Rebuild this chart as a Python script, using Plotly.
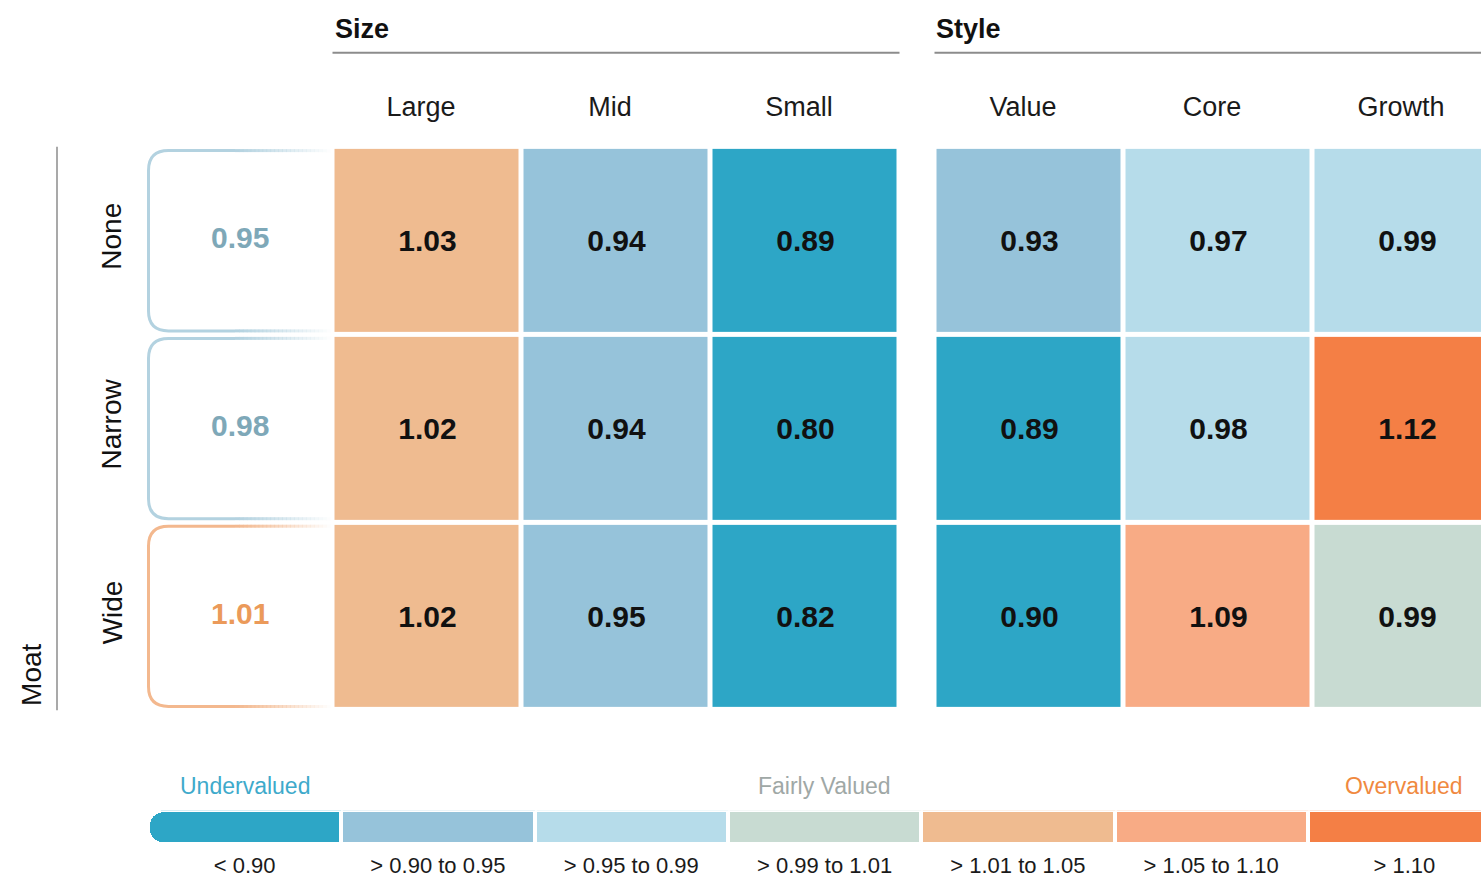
import numpy as np
import plotly.graph_objects as go

# ---- data -------------------------------------------------------------
moat_levels = ["None", "Narrow", "Wide"]
size_labels = ["Large", "Mid", "Small"]
style_labels = ["Value", "Core", "Growth"]

# price / fair value by moat rating (rows) and size / style bucket (columns)
size_values = [
    [1.03, 0.94, 0.89],
    [1.02, 0.94, 0.80],
    [1.02, 0.95, 0.82],
]
style_values = [
    [0.93, 0.97, 0.99],
    [0.89, 0.98, 1.12],
    [0.90, 1.09, 0.993],
]
moat_overall = [0.95, 0.98, 1.012]

bin_edges = [0.90, 0.95, 0.99, 1.01, 1.05, 1.10]
bin_labels = ["< 0.90", "> 0.90 to 0.95", "> 0.95 to 0.99", "> 0.99 to 1.01",
              "> 1.01 to 1.05", "> 1.05 to 1.10", "> 1.10"]
bin_colors = ["#2da6c6", "#96c3da", "#b6dcea", "#c8dbd2",
              "#efbb90", "#f8ab85", "#f47f45"]

# ---- styling ----------------------------------------------------------
W, H = 1481, 878
FONT = "Liberation Sans, Arial, sans-serif"
PITCH = 189.0  # px per column / row


def px(x):
    return x / W


def py(y):
    return 1 - y / H


n = len(bin_colors)
colorscale = []
for i, c in enumerate(bin_colors):
    colorscale += [[i / n, c], [(i + 1) / n, c]]


def bins(vals):
    return np.digitize(np.asarray(vals), bin_edges, right=True)


def fmt(vals):
    return [[f"{v:.2f}" for v in row] for row in vals]


fig = go.Figure()

for vals, labels, xa in [(size_values, size_labels, "x"), (style_values, style_labels, "x2")]:
    fig.add_trace(go.Heatmap(
        z=bins(vals), x=list(range(len(labels))), y=list(range(len(moat_levels))),
        text=fmt(vals), texttemplate="%{text}",
        textfont=dict(family=FONT, size=30, color="#111111", weight="bold"),
        colorscale=colorscale, zmin=-0.5, zmax=n - 0.5, showscale=False,
        xgap=5, ygap=5, hoverinfo="skip", xaxis=xa, yaxis="y",
    ))

# legend strip: stacked bars on a reversed axis so the rounded end sits on the left
for i in reversed(range(n)):
    fig.add_trace(go.Bar(
        x=[1], y=[0], orientation="h", width=1,
        marker=dict(color=bin_colors[i], line=dict(color="white", width=4)),
        hoverinfo="skip", showlegend=False, xaxis="x3", yaxis="y3",
    ))

axis_common = dict(showgrid=False, zeroline=False, showline=False, ticks="")

fig.update_layout(
    width=W, height=H, margin=dict(l=0, r=0, t=0, b=0),
    paper_bgcolor="white", plot_bgcolor="white", showlegend=False,
    barmode="stack", barcornerradius=15,
    xaxis=dict(**axis_common, domain=[px(332.5), px(332.5 + 3 * PITCH)], range=[-0.5, 2.5],
               side="top", anchor="y", tickvals=[0, 1, 2], ticktext=size_labels,
               tickfont=dict(family=FONT, size=27, color="#1a1a1a"),
               ticklabelstandoff=24, ticklabelshift=-6),
    xaxis2=dict(**axis_common, domain=[px(934.5), 1], range=[-0.5, -0.5 + (W - 934.5) / PITCH],
                side="top", anchor="y", tickvals=[0, 1, 2], ticktext=style_labels,
                tickfont=dict(family=FONT, size=27, color="#1a1a1a"),
                ticklabelstandoff=24, ticklabelshift=-6),
    yaxis=dict(**axis_common, domain=[py(713.5), py(147.5)], range=[2.5, -0.5],
               anchor="x", showticklabels=False),
    xaxis3=dict(**axis_common, domain=[px(148), 1], range=[n, n - (W - 148) / 193.3],
                anchor="y3", side="bottom",
                tickvals=[n - 0.5 - i for i in range(n)], ticktext=bin_labels,
                tickfont=dict(family=FONT, size=22, color="#1a1a1a"),
                ticklabelstandoff=6),
    yaxis3=dict(**axis_common, domain=[py(848), py(814)], range=[-0.5, 0.5],
                anchor="x3", showticklabels=False),
)

annotations = []
shapes = []

# group headers with rules underneath
for name, xa in [("Size", "x"), ("Style", "x2")]:
    annotations.append(dict(text=name, xref=f"{xa} domain", yref="paper", x=0, y=py(29),
                            xanchor="left", yanchor="middle", showarrow=False, xshift=0,
                            font=dict(family=FONT, size=27, color="#111111", weight="bold")))
    shapes.append(dict(type="line", xref=f"{xa} domain", yref="paper", x0=0, x1=1,
                       y0=py(53), y1=py(53), line=dict(color="#8c8c8c", width=2)))

# moat axis title and rule
annotations.append(dict(text="Moat", xref="paper", yref="paper", x=px(32), y=py(678),
                        textangle=-90, showarrow=False, xanchor="center", yanchor="middle",
                        font=dict(family=FONT, size=28, color="#111111")))
shapes.append(dict(type="line", xref="paper", yref="y domain", x0=px(57), x1=px(57),
                   y0=0, y1=1, line=dict(color="#8c8c8c", width=1.5)))

# row labels
for i, lab in enumerate(moat_levels):
    annotations.append(dict(text=lab, xref="paper", yref="y", x=px(112), y=i, yshift=4,
                            textangle=-90, showarrow=False, xanchor="center", yanchor="middle",
                            font=dict(family=FONT, size=28, color="#111111")))

# overall moat value in a fading rounded frame
h = 0.48
ry = 20 / 188.7
x_left, x_solid, x_end = 148.5, 235, 330
for i, v in enumerate(moat_overall):
    if v > 1.01:
        line_c, text_c = "#f3b88e", "#eb9a5a"
    else:
        line_c, text_c = "#b3d2e0", "#7ea8b8"
    top, bot = i - h, i + h
    xl, xs, rx = px(x_left), px(x_solid), px(20)
    path = (f"M {xs},{top} L {xl + rx},{top} Q {xl},{top} {xl},{top + ry} "
            f"L {xl},{bot - ry} Q {xl},{bot} {xl + rx},{bot} L {xs},{bot}")
    shapes.append(dict(type="path", xref="paper", yref="y", path=path,
                       line=dict(color=line_c, width=3), layer="above"))
    steps = 24
    seg = (x_end - x_solid) / steps
    for k in range(steps):
        a0 = x_solid + k * seg
        op = 1 - (k + 0.5) / steps
        for yy in (top, bot):
            shapes.append(dict(type="line", xref="paper", yref="y", x0=px(a0), x1=px(a0 + seg + 0.5),
                               y0=yy, y1=yy, line=dict(color=line_c, width=3), opacity=op))
    annotations.append(dict(text=f"{v:.2f}", xref="paper", yref="y", x=px(240), y=i, yshift=3,
                            showarrow=False, xanchor="center", yanchor="middle",
                            font=dict(family=FONT, size=30, color=text_c, weight="bold")))

# legend captions
for txt, pos, col in [("Undervalued", n - 0.5, "#3eaacb"),
                      ("Fairly Valued", n - 3.5, "#9fa8a6"),
                      ("Overvalued", 0.5, "#f0893f")]:
    annotations.append(dict(text=txt, xref="x3", yref="paper", x=pos, y=py(790),
                            showarrow=False, xanchor="center", yanchor="middle",
                            font=dict(family=FONT, size=23, color=col)))

fig.update_layout(annotations=annotations, shapes=shapes)
fig.write_html("out.html")
